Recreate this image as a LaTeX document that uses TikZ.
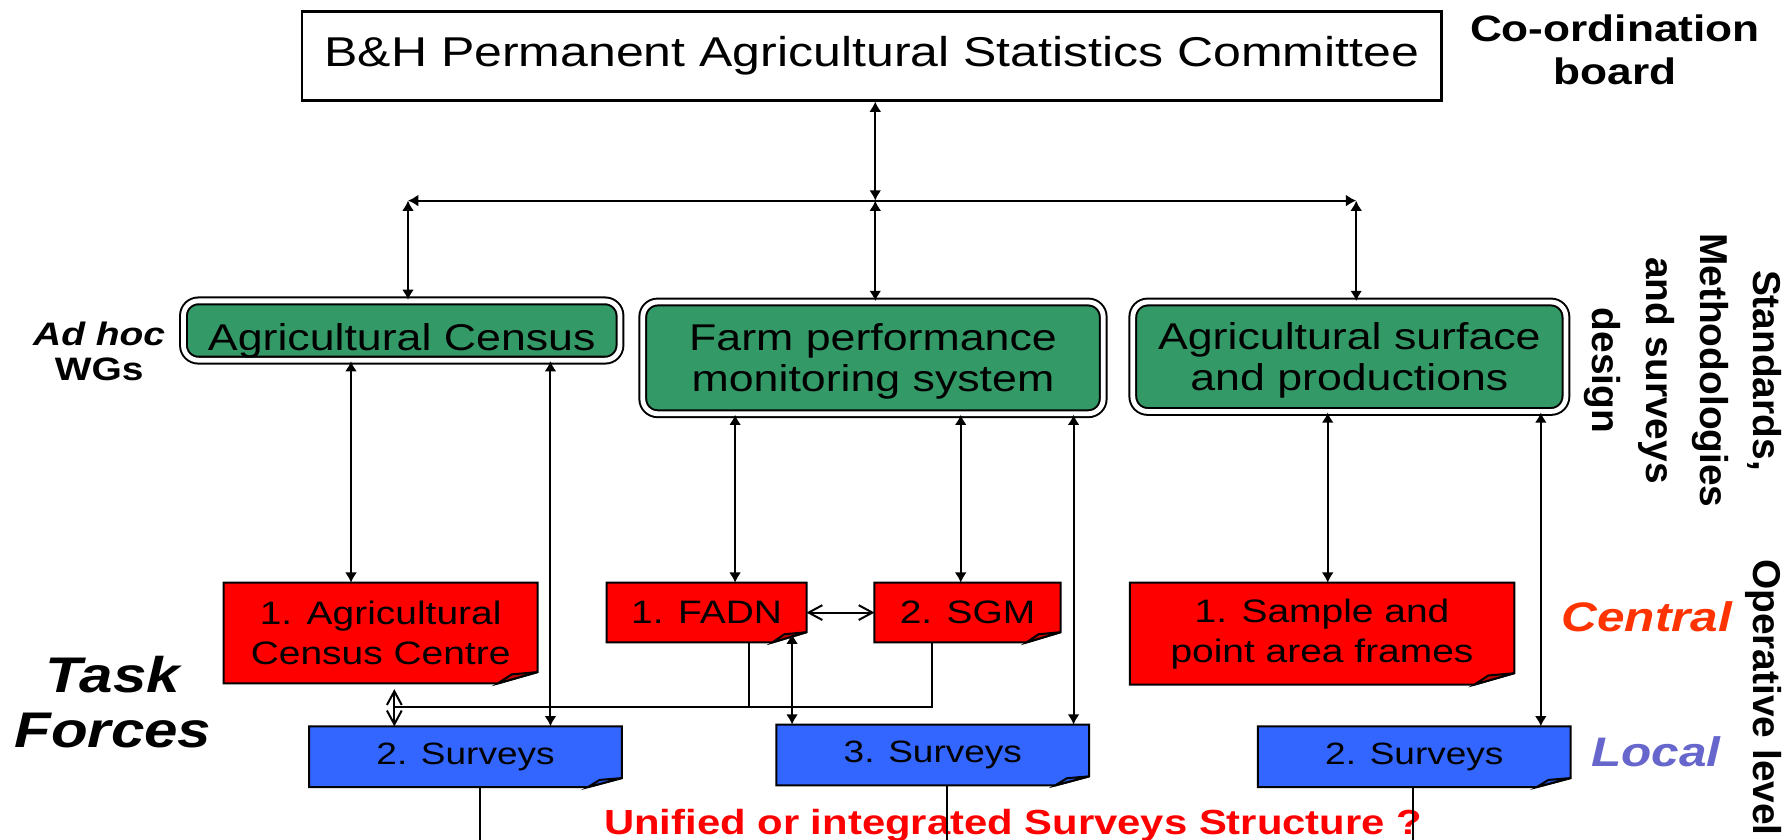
\documentclass[tikz,border=0pt]{standalone}
\usepackage{fontspec}
\setmainfont{Liberation Sans}[FakeStretch=1.2]
\newfontfamily\sidefont{Liberation Sans}
\usetikzlibrary{arrows.meta,backgrounds}
\lineskiplimit=-10pt

\definecolor{boardgreen}{HTML}{339966}
\definecolor{taskred}{HTML}{FF0000}
\definecolor{foldred}{HTML}{C00000}
\definecolor{surveyblue}{HTML}{3366FF}
\definecolor{foldblue}{HTML}{2A55DD}
\definecolor{centralred}{HTML}{FF3300}
\definecolor{localblue}{HTML}{6666CC}

% Notizzettel mit umgeknickter Ecke
\newcommand{\dogear}[5]{%
  \filldraw[fill=#2, line width=0.5pt]
    (#1.north west) -- (#1.north east) -- ([yshift=#5]#1.south east)
    -- ([xshift=-#4]#1.south east) -- (#1.south west) -- cycle;
  \filldraw[fill=#3, line width=0.5pt]
    ([xshift=-#4]#1.south east) -- ([xshift=-0.65*#4, yshift=0.8*#5]#1.south east)
    -- ([yshift=#5]#1.south east) -- cycle;
}

\tikzset{
  board/.style={draw, fill=white, line width=0.6pt, minimum width=100mm,
    minimum height=7.8mm, font=\fontsize{10.4}{12}\selectfont},
  wg/.style={draw, double=white, double distance=1.2pt, line width=0.5pt,
    fill=boardgreen, rounded corners=1.3mm, align=center, text depth=0pt,
    font=\fontsize{9.3}{10.3}\selectfont},
  task/.style={inner sep=0pt, align=center, font=\fontsize{8.1}{10}\selectfont},
  survey/.style={task, font=\fontsize{7.7}{10}\selectfont,
    minimum width=27.3mm, minimum height=5.2mm},
  tag/.style={align=center, font=\fontsize{8.1}{8.8}\selectfont\bfseries},
  side/.style={rotate=-90, align=center, font=\sidefont\fontsize{9.7}{13.4}\selectfont\bfseries},
  link/.style={line width=0.5pt,
    {Latex[length=0.9mm,width=1.05mm]}-{Latex[length=0.9mm,width=1.05mm]}},
  barbs/.style={line width=0.5pt,
    {Straight Barb[length=1.2mm,width=1.3mm]}-{Straight Barb[length=1.2mm,width=1.3mm]}},
}

\begin{document}
\begin{tikzpicture}[x=0.1mm, y=-0.1mm]
  \useasboundingbox (0,0) rectangle (1568,737);

  % Koordinationsebene
  \node[board] (committee) at (765,49) {B\&H Permanent Agricultural Statistics Committee};
  \node[tag, font=\fontsize{9.2}{10.8}\selectfont\bfseries] (coord) at (1417,44) {Co-ordination\\board};

  % Arbeitsgruppen
  \node[wg, minimum width=38.3mm, minimum height=5.2mm, text height=10pt, inner ysep=0.5pt]
    (census) at (352.5,290) {Agricultural Census};
  \node[wg, minimum width=40.4mm, minimum height=9.8mm] (farm) at (766,314) {Farm performance\\monitoring system};
  \node[wg, minimum width=38mm, minimum height=9.6mm] (surface) at (1184,313) {Agricultural surface\\and productions};
  \node[tag] (adhoc) at (87,308) {{\itshape Ad hoc}\\WGs};
  \node[side] (design) at (1477,325) {Standards,\\Methodologies\\and surveys\\design};

  % Task Forces
  \node[task, minimum width=27.4mm, minimum height=8.7mm] (acc) at (334,555.5) {1. Agricultural\\Census Centre};
  \node[task, minimum width=17.4mm, minimum height=5.1mm] (fadn) at (620,537.5) {1. FADN};
  \node[task, minimum width=16.2mm, minimum height=5.1mm] (sgm) at (849,537.5) {2. SGM};
  \node[task, minimum width=33.6mm, minimum height=8.8mm] (frames) at (1160,556) {1. Sample and\\point area frames};
  \node[survey] (surv1) at (408.5,664) {2. Surveys};
  \node[survey] (surv3) at (818.5,662.5) {3. Surveys};
  \node[survey] (surv2) at (1241,664) {2. Surveys};

  \begin{scope}[on background layer]
    \dogear{acc}{taskred}{foldred}{3.5mm}{1mm}
    \dogear{fadn}{taskred}{foldred}{3mm}{0.9mm}
    \dogear{sgm}{taskred}{foldred}{3mm}{0.9mm}
    \dogear{frames}{taskred}{foldred}{3.5mm}{1mm}
    \dogear{surv1}{surveyblue}{foldblue}{3mm}{0.8mm}
    \dogear{surv3}{surveyblue}{foldblue}{3mm}{0.8mm}
    \dogear{surv2}{surveyblue}{foldblue}{3mm}{0.8mm}
  \end{scope}

  \node[side] (operative) at (1547,612) {Operative level};
  \node[font=\fontsize{10.3}{12}\selectfont\bfseries\itshape, text=centralred] (central) at (1445,541) {Central};
  \node[font=\fontsize{10.3}{12}\selectfont\bfseries\itshape, text=localblue] (local) at (1453,660) {Local};
  \node[align=center, font=\fontsize{12.5}{13.7}\selectfont\bfseries\itshape] (forces) at (99,616) {Task\\Forces};
  \node[font=\fontsize{8.7}{10}\selectfont\bfseries, text=taskred] (unified) at (889,724)
    {Unified or integrated Surveys Structure ?};

  % Verbindungen oben
  \coordinate (hub) at (768,176);
  \coordinate (hubL) at (358,176);
  \coordinate (hubR) at (1190,176);
  \draw[link] (hub |- committee.south) -- (hub);
  \draw[link] (hubL) -- (hubR);
  \draw[link] (hubL) -- (hubL |- census.north);
  \draw[link] (hub) -- (hub |- farm.north);
  \draw[link] (hubR) -- (hubR |- surface.north);

  % Verbindungen zu den Task Forces
  \draw[link] (308,0 |- census.south) -- (308,0 |- acc.north);
  \draw[link] (483,0 |- census.south) -- (483,0 |- surv1.north);
  \draw[link] (645,0 |- farm.south) -- (645,0 |- fadn.north);
  \draw[link] (843,0 |- farm.south) -- (843,0 |- sgm.north);
  \draw[link] (942,0 |- farm.south) -- (942,0 |- surv3.north);
  \draw[link] (1165,0 |- surface.south) -- (1165,0 |- frames.north);
  \draw[link] (1352,0 |- surface.south) -- (1352,0 |- surv2.north);

  % Querverbindungen
  \coordinate (fadnfold) at (695,556);
  \coordinate (junction) at (346,620);
  \draw[barbs] (fadn.east) -- (sgm.west);
  \draw[link] (695,0 |- surv3.north) -- (fadnfold);
  \draw[line width=0.5pt] (818,0 |- sgm.south) |- (junction);
  \draw[line width=0.5pt] (657,0 |- fadn.south) -- (657,0 |- junction);
  \draw[barbs, shorten <=0.5mm] (346,0 |- acc.south) -- (346,0 |- surv1.north);

  % nach unten offen
  \coordinate (foot1) at (421,740);
  \coordinate (foot3) at (831,740);
  \coordinate (foot2) at (1240,740);
  \draw[line width=0.5pt] (421,0 |- surv1.south) -- (foot1);
  \draw[line width=0.5pt] (831,0 |- surv3.south) -- (foot3);
  \draw[line width=0.5pt] (1240,0 |- surv2.south) -- (foot2);
\end{tikzpicture}
\end{document}
